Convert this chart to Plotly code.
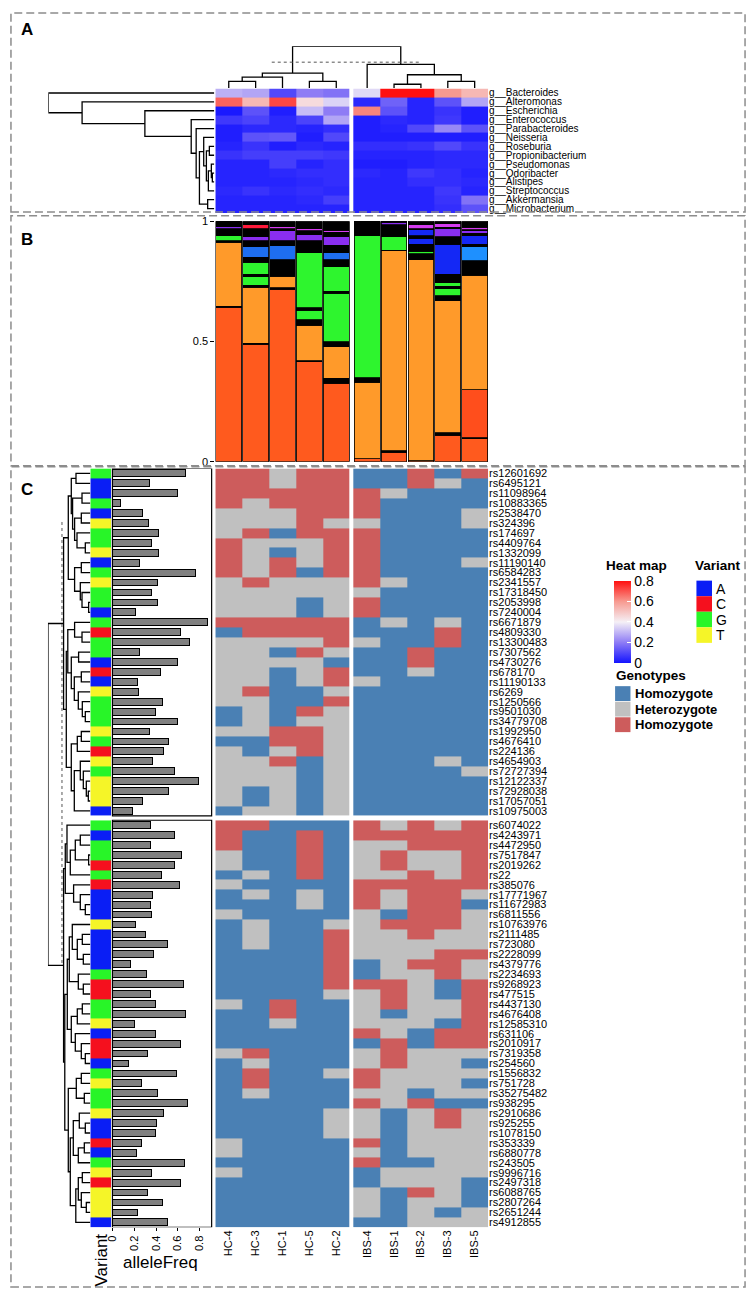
import plotly.graph_objects as go

W, H = 750, 1298
FONT = "Liberation Sans, Arial, sans-serif"
NARROW = "Liberation Sans Narrow, Liberation Sans, Arial, sans-serif"


def px(x):
    return x / W


def py(y):
    return 1 - y / H


# ---------------- shared sample order ----------------
samples = ["HC-4", "HC-3", "HC-1", "HC-5", "HC-2", "IBS-4", "IBS-1", "IBS-2", "IBS-3", "IBS-5"]

# ---------------- panel A : genus abundance heatmap ----------------
genera = ["Bacteroides", "Alteromonas", "Escherichia", "Enterococcus", "Parabacteroides",
          "Neisseria", "Roseburia", "Propionibacterium", "Pseudomonas", "Odoribacter",
          "Alistipes", "Streptococcus", "Akkermansia", "Microbacterium"]
abund = [
    [0.29, 0.27, 0.10, 0.20, 0.18, 0.36, 0.80, 0.80, 0.60, 0.53],
    [0.68, 0.53, 0.72, 0.45, 0.35, 0.04, 0.15, 0.03, 0.12, 0.27],
    [0.01, 0.12, 0.02, 0.31, 0.20, 0.63, 0.12, 0.03, 0.06, 0.02],
    [0.07, 0.09, 0.04, 0.09, 0.27, 0.02, 0.04, 0.03, 0.07, 0.02],
    [0.02, 0.04, 0.04, 0.03, 0.05, 0.02, 0.03, 0.10, 0.22, 0.12],
    [0.02, 0.12, 0.13, 0.02, 0.10, 0.02, 0.02, 0.02, 0.02, 0.02],
    [0.03, 0.06, 0.02, 0.04, 0.03, 0.05, 0.05, 0.06, 0.10, 0.06],
    [0.06, 0.08, 0.08, 0.08, 0.07, 0.03, 0.03, 0.03, 0.04, 0.04],
    [0.03, 0.03, 0.08, 0.03, 0.05, 0.02, 0.02, 0.03, 0.04, 0.04],
    [0.03, 0.03, 0.04, 0.05, 0.05, 0.04, 0.03, 0.07, 0.05, 0.03],
    [0.03, 0.03, 0.03, 0.04, 0.05, 0.03, 0.03, 0.05, 0.05, 0.04],
    [0.04, 0.06, 0.04, 0.05, 0.04, 0.03, 0.03, 0.03, 0.07, 0.03],
    [0.03, 0.03, 0.03, 0.04, 0.08, 0.03, 0.03, 0.03, 0.06, 0.18],
    [0.03, 0.03, 0.03, 0.03, 0.03, 0.03, 0.03, 0.03, 0.05, 0.12],
]
# trees: (height, left, right); leaves are indices
col_tree = (42, (15, (10.9, (6.7, 0, 1), 2), (6.7, 3, 4)),
            (23.7, 5, (13.3, (3.7, 6, 7), (6.7, 8, 9))))
col_cut = 26
row_tree = (167.3, 0, (133.3, 1, (70, 2, (23.3, 3, (18.3, 4, (15, (10.7, 5, (8, (5, 6, 7),
            (6, (3, 8, (2, 9, 10)), 11))), (6.7, 12, 13)))))))

# ---------------- panel B : stacked composition ----------------
b_redorange = [0.642, 0.488, 0.718, 0.416, 0.327, 0.012, 0.040, 0.005, 0.110, 0.095]
b_black1 = [0.005, 0.005, 0.005, 0.005, 0.020, 0.000, 0.005, 0.000, 0.010, 0.005]
b_redorange2 = [0, 0, 0, 0, 0, 0, 0, 0, 0, 0.200]
b_orange = [0.266, 0.232, 0.049, 0.146, 0.131, 0.318, 0.832, 0.835, 0.550, 0.475]
b_black2 = [0.007, 0.010, 0.008, 0.023, 0.022, 0.020, 0.003, 0.025, 0.020, 0.055]
b_green1 = [0.020, 0.035, 0, 0.040, 0.200, 0.590, 0.055, 0.010, 0.030, 0]
b_black3 = [0.030, 0.010, 0.050, 0.010, 0.010, 0.060, 0.050, 0.030, 0.010, 0.005]
b_green2 = [0, 0.050, 0, 0.230, 0.100, 0, 0, 0, 0.015, 0]
b_black4 = [0, 0.020, 0.010, 0.050, 0.030, 0, 0, 0, 0.035, 0]
b_bluemid = [0, 0.045, 0.060, 0, 0.030, 0, 0, 0, 0, 0]
b_bluelight = [0, 0, 0, 0, 0, 0, 0, 0, 0, 0.060]
b_bluedark1 = [0, 0, 0, 0, 0, 0, 0, 0.025, 0.125, 0]
b_black5 = [0, 0.025, 0.020, 0, 0.030, 0, 0, 0.010, 0.030, 0.010]
b_bluedark2 = [0, 0, 0, 0, 0, 0, 0, 0.025, 0, 0.035]
b_black6 = [0, 0, 0, 0, 0, 0, 0, 0.005, 0, 0.010]
b_purple = [0.008, 0.015, 0.040, 0.025, 0.035, 0, 0.010, 0, 0.035, 0.010]
b_black7 = [0.022, 0.035, 0.010, 0.015, 0.020, 0, 0.005, 0, 0.005, 0.005]
b_red = [0, 0.015, 0, 0, 0, 0, 0, 0, 0, 0]
b_magenta = [0, 0, 0.008, 0.008, 0.008, 0, 0, 0.015, 0.015, 0.010]
b_black8 = [0, 0.015, 0.022, 0.032, 0.037, 0, 0, 0.015, 0.010, 0.025]
b_layers = [
    (b_redorange, "#FF5A1E"), (b_black1, "#000000"), (b_redorange2, "#FF4E1C"),
    (b_orange, "#FF9A2A"), (b_black2, "#000000"), (b_green1, "#2EF52E"),
    (b_black3, "#000000"), (b_green2, "#2EF52E"), (b_black4, "#000000"),
    (b_bluemid, "#1E6EF0"), (b_bluelight, "#1E90FF"), (b_bluedark1, "#1428F5"),
    (b_black5, "#000000"), (b_bluedark2, "#1428F5"), (b_black6, "#000000"),
    (b_purple, "#8A2EF0"), (b_black7, "#000000"), (b_red, "#FF1A3A"),
    (b_magenta, "#D53CF0"), (b_black8, "#000000"),
]

# ---------------- panel C : SNP genotypes ----------------
snp_top = ["rs12601692", "rs6495121", "rs11098964", "rs10883365", "rs2538470", "rs324396",
           "rs174697", "rs4409764", "rs1332099", "rs11190140", "rs6584283", "rs2341557",
           "rs17318450", "rs2053998", "rs7240004", "rs6671879", "rs4809330", "rs13300483",
           "rs7307562", "rs4730276", "rs678170", "rs11190133", "rs6269", "rs1250566",
           "rs9501030", "rs34779708", "rs1992950", "rs4676410", "rs224136", "rs4654903",
           "rs72727394", "rs12122337", "rs72928038", "rs17057051", "rs10975003"]
snp_bottom = ["rs6074022", "rs4243971", "rs4472950", "rs7517847", "rs2019262", "rs22",
              "rs385076", "rs17771967", "rs11672983", "rs6811556", "rs10763976", "rs2111485",
              "rs723080", "rs2228099", "rs4379776", "rs2234693", "rs9268923", "rs477515",
              "rs4437130", "rs4676408", "rs12585310", "rs631106", "rs2010917", "rs7319358",
              "rs254560", "rs1556832", "rs751728", "rs35275482", "rs938295", "rs2910686",
              "rs925255", "rs1078150", "rs353339", "rs6880778", "rs243505", "rs9996716",
              "rs2497318", "rs6088765", "rs2807264", "rs2651244", "rs4912855"]
# B = homozygote (blue), G = heterozygote (grey), R = homozygote (red); sample order as above
geno_top = ["RRGRRBBRBR", "RRGRRBBRGB", "RRRRRRGBBB", "RGRRRRBBBB", "GGGRRRBBBG",
            "GGGRGGBBBG", "GRBRRRBBBB", "RGGGRRBBBB", "RGBGRRBBBB", "RGRGRRBBBG",
            "RGRBRRBBBB", "GRGGGRGBBB", "GGGGGGBBBB", "GGGBGRBBBB", "GGGBGRBBBB",
            "RRRRRBGBGB", "BRRRRBBBRB", "GGGGRGBBRB", "GGBRGBBRBB", "GGGGBBBRBB",
            "GGBGRBBGBB", "GGBGRGBBBB", "GRBBGBBBBB", "GGBBRBBBBB", "BGBRGBBBBB",
            "BGBGGBBBBB", "GGRRGBBBBB", "BBRRGBBBBB", "GBGRGBBBBB", "GGRBGBBBGB",
            "GGGBGBBBBG", "GGGBGBBBBB", "GBGBGBBBBB", "GBGBGBBBBB", "BGGBGBBBBB"]
geno_bottom = ["RRBBBRGRGR", "RBBRBRRRRR", "RBBRBGGRRR", "GBBRBGRGGR", "GBBRBGRGGR",
               "BGBRBGGRGR", "GBBBBRRRRR", "BGBGBRGRRG", "BBBGBRGRRB", "GBBBBGBRRG",
               "BGBBGGRRRG", "BGBBRGGRGG", "BGBBRGGGGG", "BBBBRGGGRR", "BBBBRBGRRG",
               "BBBBRBGGRG", "BBBBRRRGBR", "BBBBGGRGBR", "GBRBBGRGGR", "BBRBBGBGGR",
               "BBGBBGGGBR", "BBBBBRGBRR", "BBBBBBRBRR", "GRBBBGRGGG", "BGBBBGRGGB",
               "BRBBGRGGGG", "BRBBBRGGGB", "BGBBBGGBGG", "BBBBBRGRBB", "BBBBGGBGRG",
               "BBBBGGBGRG", "BBBBGGBGGG", "GBBBBRBGGG", "GBBBBGBGGG", "BBBBBRBBGG",
               "GBBBBBGGGG", "BBBBBBGGGB", "BBBBBGBRGB", "BBBBBGBGGB", "BBBBBGBGBG",
               "BBBBBBBGGG"]
variant_top = "GAAGATGGTAGTGGAGCGGACATGGGTGCTGTTTA"
variant_bottom = "GAGGCGCAAATAAAAGCCGGTACCAGTGGTAACAGTCTTTA"
freq_top = [0.667, 0.336, 0.60, 0.07, 0.276, 0.327, 0.42, 0.357, 0.42, 0.248, 0.76, 0.41,
            0.357, 0.41, 0.21, 0.867, 0.627, 0.706, 0.248, 0.60, 0.436, 0.227, 0.24, 0.458,
            0.39, 0.60, 0.336, 0.518, 0.47, 0.37, 0.567, 0.79, 0.518, 0.276, 0.18]
freq_bottom = [0.35, 0.57, 0.35, 0.63, 0.565, 0.45, 0.61, 0.37, 0.35, 0.36, 0.21, 0.30, 0.50,
               0.38, 0.17, 0.31, 0.65, 0.35, 0.39, 0.67, 0.20, 0.39, 0.62, 0.32, 0.15, 0.59,
               0.27, 0.41, 0.69, 0.47, 0.40, 0.39, 0.27, 0.22, 0.66, 0.36, 0.62, 0.32, 0.46,
               0.23, 0.50]
snp_tree_top = (26.7,
                (22, (19, (14.3, 0, 1), (17.7, (8.3, 2, 3), (15.7, (9, 4, 5), (13.3, 6, (5, 7, 8))))),
                 (15.7, (9, 9, 10), (10, 11, (8.3, 12, (1.7, 13, 14))))),
                (24, (22.5, (15.7, 15, (8.3, 16, 17)),
                      (19, (11.7, 18, 19), (16, (9, 20, 21), (12, 22, (8, 23, (5, 24, 25)))))),
                 (19, (13, (9, 26, 27), 28),
                  (16, (10, 29, (7, 30, (4, 31, (2, 32, 33)))), 34))))
snp_tree_bottom = (26.7,
                   (25, (23.3, 0, (20, (15, (10, 1, 2), (1.7, 3, 4)), 5)),
                    (16.7, 6, (10, 7, (5, 8, 9)))),
                   (25.5, (23, (21, (18, 10, (13, (8, 11, 12), (7, 13, 14))), (12, 15, (7, 16, 17))),
                           (19, (13, (8, 18, 19), 20), (15, 21, (9, 22, (5, 23, 24))))),
                    (22, (14, (9, 25, 26), (6, 27, 28)),
                     (20, (17, (11, 29, (5, 30, 31)), (12, (6, 32, 33), 34)),
                      (14.5, (12, (8, 35, 36), (9, 37, (4, 38, 39))), 40)))))
snp_root_height = 42.3
snp_cut = 28.3

variant_names = ["A", "C", "G", "T"]
variant_colors = ["#0A1EF5", "#F5101E", "#28F528", "#F5F528"]
geno_names = ["Homozygote", "Heterozygote", "Homozygote"]
geno_colors = ["#4A80B4", "#C0C0C0", "#CD5C5C"]

# ---------------- helpers ----------------
GAP = 0.15
col_pos = [i + 0.5 if i < 5 else i + 0.5 + GAP for i in range(10)]
x_edges = [0, 1, 2, 3, 4, 5, 5 + GAP, 6 + GAP, 7 + GAP, 8 + GAP, 9 + GAP, 10 + GAP]
XMAX = 10 + GAP

n_top, n_bot = len(snp_top), len(snp_bottom)
ROWGAP = 0.44
row_pos = [i + 0.5 for i in range(n_top)] + [n_top + ROWGAP + k + 0.5 for k in range(n_bot)]
y_edges = list(range(n_top + 1)) + [n_top + ROWGAP + k for k in range(n_bot + 1)]
YMAX = n_top + ROWGAP + n_bot


def with_gap(vals):
    return list(vals[:5]) + [None] + list(vals[5:])


def shift(node, k):
    if isinstance(node, int):
        return node + k
    return (node[0], shift(node[1], k), shift(node[2], k))


def dendro(node, pos):
    ps, hs = [], []

    def walk(n):
        if isinstance(n, int):
            return pos[n], 0.0
        h, a, b = n
        pa, ha = walk(a)
        pb, hb = walk(b)
        ps.extend([pa, pa, pb, pb, None])
        hs.extend([ha, h, h, hb, None])
        return (pa + pb) / 2, h

    walk(node)
    return ps, hs


fig = go.Figure()
LINE = dict(color="black", width=1.3)

# ---- A
heat_scale = [[0, "#1414FF"], [0.25, "#8E7CF5"], [0.5, "#F5F0F6"], [0.75, "#F79A90"], [1, "#FF1010"]]
fig.add_trace(go.Heatmap(
    z=[with_gap(r) for r in abund], x=x_edges, y=list(range(len(genera) + 1)),
    colorscale=heat_scale, zmin=0, zmax=0.8, xaxis="x", yaxis="y",
    colorbar=dict(x=px(613), xanchor="left", y=py(580), yanchor="top", xpad=0, ypad=0,
                  lenmode="pixels", len=82, thickness=17, outlinewidth=0,
                  tickvals=[0, 0.2, 0.4, 0.6, 0.8], ticktext=["0", "0.2", "0.4", "0.6", "0.8"],
                  ticks="inside", ticklen=4, tickcolor="white",
                  tickfont=dict(family=FONT, size=14, color="black"))))
cx, cy = dendro(col_tree, col_pos)
fig.add_trace(go.Scatter(x=cx, y=cy, mode="lines", line=LINE, xaxis="x2", yaxis="y2",
                         cliponaxis=False, hoverinfo="skip"))
rpos = [r + 0.5 for r in range(len(genera))]
ry, rx = dendro(row_tree, rpos)
fig.add_trace(go.Scatter(x=rx, y=ry, mode="lines", line=LINE, xaxis="x3", yaxis="y",
                         cliponaxis=False, hoverinfo="skip"))

# ---- B
for vals, colr in b_layers:
    fig.add_trace(go.Bar(x=col_pos, y=vals, width=0.96, marker=dict(color=colr, line=dict(color="black", width=0.8)),
                         xaxis="x4", yaxis="y4", hoverinfo="skip"))

# ---- C
geno_code = {"B": 0, "G": 1, "R": 2}
zg = [with_gap([geno_code[c] for c in s]) for s in geno_top] + [[None] * 11] + \
     [with_gap([geno_code[c] for c in s]) for s in geno_bottom]
fig.add_trace(go.Heatmap(
    z=zg, x=x_edges, y=y_edges, xaxis="x5", yaxis="y5", zmin=0, zmax=2, showscale=False,
    colorscale=[[0, geno_colors[0]], [0.333, geno_colors[0]], [0.333, geno_colors[1]],
                [0.667, geno_colors[1]], [0.667, geno_colors[2]], [1, geno_colors[2]]]))

var_code = {v: i for i, v in enumerate(variant_names)}
zv = [[var_code[c]] for c in variant_top] + [[None]] + [[var_code[c]] for c in variant_bottom]
vscale = []
for i, colr in enumerate(variant_colors):
    vscale += [[i / 4, colr], [(i + 1) / 4, colr]]
fig.add_trace(go.Heatmap(z=zv, x=[0, 1], y=y_edges, xaxis="x6", yaxis="y5", zmin=0, zmax=3,
                         colorscale=vscale, showscale=False))

fig.add_trace(go.Bar(x=freq_top + freq_bottom, y=row_pos, orientation="h", width=0.68,
                     marker=dict(color="#808080", line=dict(color="black", width=1)),
                     xaxis="x7", yaxis="y5", hoverinfo="skip"))

snp_tree = (snp_root_height, snp_tree_top, shift(snp_tree_bottom, n_top))
sy, sx = dendro(snp_tree, row_pos)
fig.add_trace(go.Scatter(x=sx, y=sy, mode="lines", line=LINE, xaxis="x8", yaxis="y5",
                         cliponaxis=False, hoverinfo="skip"))

# ---------------- layout ----------------
XDOM = [px(211), px(486)]
hid = dict(visible=False, showgrid=False, zeroline=False)
fig.update_layout(
    width=W, height=H, margin=dict(l=0, r=0, t=0, b=0),
    paper_bgcolor="white", plot_bgcolor="white", showlegend=False, barmode="stack",
    font=dict(family=FONT, color="black"),
    xaxis=dict(domain=XDOM, range=[0, XMAX], anchor="y", **hid),
    yaxis=dict(domain=[py(209), py(83.3)], range=[len(genera), 0], anchor="x", side="right",
               tickvals=rpos, ticktext=["g__" + g for g in genera], ticks="", showgrid=False,
               zeroline=False, showline=False, tickfont=dict(family=NARROW, size=10)),
    xaxis2=dict(domain=XDOM, range=[0, XMAX], anchor="y2", **hid),
    yaxis2=dict(domain=[py(82.7), py(40.7)], range=[0, 42], anchor="x2", **hid),
    xaxis3=dict(domain=[px(42.7), px(210)], range=[167.3, 0], anchor="y", **hid),
    xaxis4=dict(domain=XDOM, range=[0, XMAX], anchor="y4", **hid),
    yaxis4=dict(domain=[py(460), py(217.3)], range=[0, 1], anchor="x4", tickvals=[0, 0.5, 1],
                ticktext=["0", "0.5", "1"], ticks="outside", ticklen=4, tickcolor="black",
                showgrid=False, zeroline=False, showline=False, tickfont=dict(size=11)),
    xaxis5=dict(domain=XDOM, range=[0, XMAX], anchor="y5", tickvals=col_pos, ticktext=samples,
                tickangle=-90, ticks="", showgrid=False, zeroline=False, showline=False,
                tickfont=dict(size=11)),
    yaxis5=dict(domain=[py(1232.7), py(466.7)], range=[YMAX, 0], anchor="x5", side="right",
                tickvals=row_pos, ticktext=snp_top + snp_bottom, ticks="", showgrid=False,
                zeroline=False, showline=False, tickfont=dict(size=11)),
    xaxis6=dict(domain=[px(85), px(106)], range=[0, 1], anchor="y5", **hid),
    xaxis7=dict(domain=[px(107.3), px(207.3)], range=[0, 0.909], anchor="y5",
                tickvals=[0, 0.2, 0.4, 0.6, 0.8], ticktext=["0", "0.2", "0.4", "0.6", "0.8"],
                tickangle=-90, ticks="outside", ticklen=3, tickcolor="black",
                showgrid=False, zeroline=False, showline=False, tickfont=dict(size=11)),
    xaxis8=dict(domain=[px(42.3), px(85)], range=[snp_root_height, 0], anchor="y5", **hid),
)

shapes = []
# dashed panel boxes
for y0, y1 in [(7, 208), (211.7, 464), (465, 1293)]:
    shapes.append(dict(type="rect", xref="paper", yref="paper", x0=px(5), x1=px(745),
                       y0=py(y1), y1=py(y0), line=dict(color="#8C8C8C", width=1.5, dash="8px,4px")))
# cut lines of dendrograms
shapes.append(dict(type="line", xref="x2", yref="y2", x0=2.1, x1=7.67, y0=col_cut, y1=col_cut,
                   line=dict(color="#555555", width=1, dash="dot")))
shapes.append(dict(type="line", xref="x8", yref="y5", x0=snp_cut, x1=snp_cut, y0=5.4, y1=50,
                   line=dict(color="#555555", width=1, dash="dot")))
# frames around allele frequency blocks
for y0, y1 in [(0, n_top), (n_top + ROWGAP, YMAX)]:
    shapes.append(dict(type="rect", xref="x7 domain", yref="y5", x0=0, x1=1, y0=y0, y1=y1,
                       line=dict(color="black", width=1.2)))
# legend swatches
for i, colr in enumerate(variant_colors):
    shapes.append(dict(type="rect", xref="paper", yref="paper", x0=px(696), x1=px(711.7),
                       y0=py(580 + 15.7 * (i + 1)), y1=py(580 + 15.7 * i),
                       fillcolor=colr, line=dict(width=0)))
for i, colr in enumerate(geno_colors):
    shapes.append(dict(type="rect", xref="paper", yref="paper", x0=px(614), x1=px(629.5),
                       y0=py(686.5 + 15.7 * i + 15), y1=py(686.5 + 15.7 * i),
                       fillcolor=colr, line=dict(width=0)))

ann = []


def text(x, y, s, size, bold=False, xanchor="center", angle=0):
    ann.append(dict(x=px(x), y=py(y), xref="paper", yref="paper", text="<b>%s</b>" % s if bold else s,
                    showarrow=False, xanchor=xanchor, yanchor="middle", textangle=angle,
                    font=dict(family=FONT, size=size, color="black")))


text(21, 24, "A", 17, bold=True)
text(21, 236, "B", 17, bold=True)
text(21, 488, "C", 17, bold=True)
text(636, 565, "Heat map", 13.5, bold=True)
text(718, 565, "Variant", 13.5, bold=True)
text(650, 676, "Genotypes", 13.5, bold=True)
for i, v in enumerate(variant_names):
    text(714, 588 + 15.7 * i, v, 14, xanchor="left")
for i, g in enumerate(geno_names):
    text(632, 694 + 15.7 * i, g, 13, bold=True, xanchor="left")
text(156, 1268, "alleleFreq", 17)
text(96, 1266, "Variant", 17, angle=-90)

fig.update_layout(shapes=shapes, annotations=ann)
fig.write_html("out.html", config={"displayModeBar": False},
               post_script="document.body.style.margin='0px';document.body.style.padding='0px';")
